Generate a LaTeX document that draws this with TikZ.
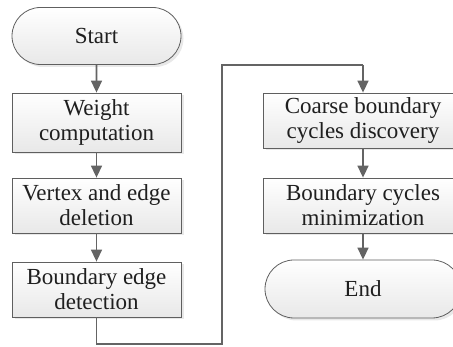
\documentclass[tikz,border=0pt]{standalone}
\usepackage{fontspec}
\setmainfont{Liberation Serif}
\usetikzlibrary{arrows.meta,shapes.misc,shadows}
\definecolor{edgegray}{RGB}{95,95,95}
\definecolor{linegray}{RGB}{100,100,100}
\definecolor{fillbot}{RGB}{232,232,232}
\tikzset{
  base/.style={draw=edgegray, line width=0.8pt, top color=white, bottom color=fillbot,
    align=center, font=\fontsize{23}{25}\selectfont, text=black!88, inner sep=0pt,
    drop shadow={opacity=0.18, shadow xshift=2.5pt, shadow yshift=-2.5pt}},
  procbox/.style={base, rectangle, minimum width=#1, minimum height=56pt},
  term/.style={base, rounded rectangle, minimum width=#1, minimum height=57pt},
  flow/.style={draw=linegray, line width=1.6pt, -{Triangle[length=12pt,width=11pt]}},
  link/.style={draw=linegray, line width=1.6pt},
}
\begin{document}
\begin{tikzpicture}[x=1pt,y=1pt]
\useasboundingbox (0,0) rectangle (453,347);
\clip (0,0) rectangle (453,347);
\node[term=169pt] (start) at (96.5,311) {Start};
\node[procbox=169pt, minimum height=59pt] (w) at (96.5,224.5) {Weight\\computation};
\node[procbox=169pt, minimum height=55pt] (v) at (96.5,141.5) {Vertex and edge\\deletion};
\node[procbox=169pt, minimum height=55pt] (b) at (96.5,57.5) {Boundary edge\\detection};
\node[procbox=200pt, minimum height=55pt] (c) at (363,226.5) {Coarse boundary\\cycles discovery};
\node[procbox=200pt, minimum height=55pt] (m) at (363,141.5) {Boundary cycles\\minimization};
\node[term=196pt, minimum height=58pt] (e) at (363,58) {End};
\coordinate (p1) at (96.5,3);
\coordinate (p2) at (222,3);
\coordinate (p3) at (222,282);
\coordinate (p4) at (363,282);
\draw[flow] (start) -- (w);
\draw[flow] (w) -- (v);
\draw[flow] (v) -- (b);
\draw[link] (b.south) -- (p1) -- (p2) -- (p3) -- (p4);
\draw[flow] (p4) -- (c.north);
\draw[flow] (c) -- (m);
\draw[flow] (m) -- (e);
\end{tikzpicture}
\end{document}
